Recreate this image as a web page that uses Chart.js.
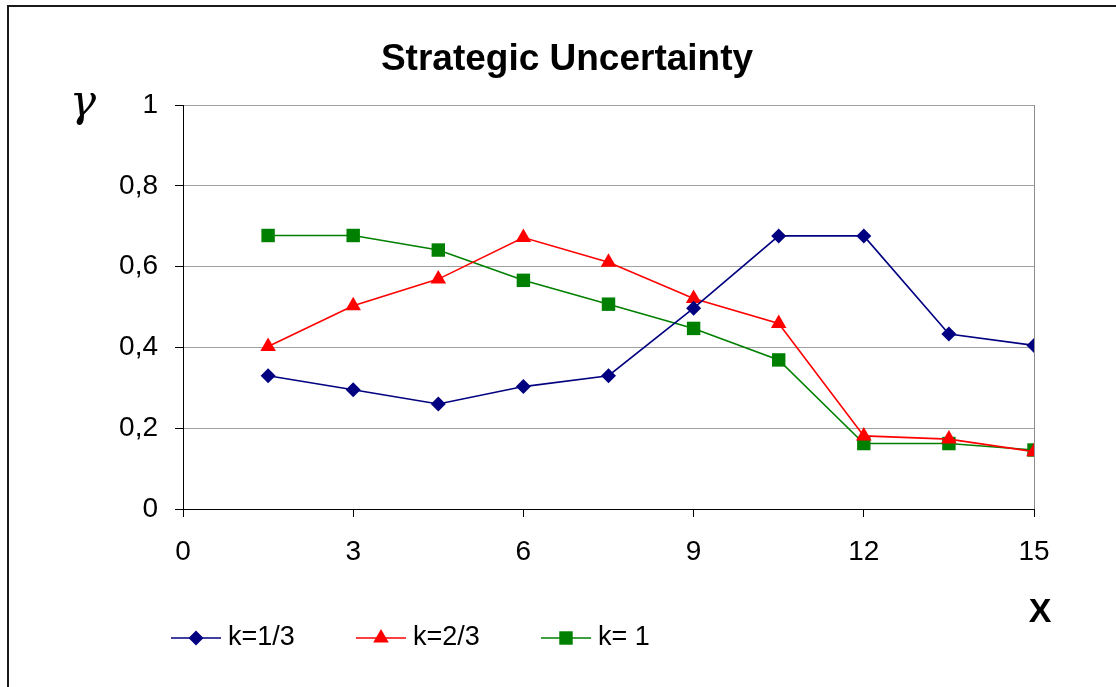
<!DOCTYPE html>
<html>
<head>
<meta charset="utf-8">
<script src="https://cdn.jsdelivr.net/npm/chart.js@4/dist/chart.umd.min.js"></script>
<style>
  html, body { margin: 0; padding: 0; background: #ffffff; }
  #wrap { width: 1116px; height: 687px; position: relative; }
</style>
</head>
<body>
<div id="wrap"><canvas id="c" width="1116" height="687"></canvas></div>
<script>
// ---- data ----
const chartTitle = 'Strategic Uncertainty';
const yAxisTitle = 'γ';
const xAxisTitle = 'X';
const xValues = [1.5, 3, 4.5, 6, 7.5, 9, 10.5, 12, 13.5, 15];
const seriesLabels = ['k=1/3', 'k=2/3', 'k= 1'];
const k13 = [0.330, 0.295, 0.260, 0.303, 0.330, 0.497, 0.676, 0.676, 0.433, 0.405];
const k23 = [0.402, 0.503, 0.569, 0.672, 0.611, 0.521, 0.459, 0.181, 0.173, 0.142];
const k1  = [0.677, 0.677, 0.641, 0.566, 0.507, 0.447, 0.369, 0.162, 0.162, 0.146];
const xTickLabels = ['0', '3', '6', '9', '12', '15'];
const yTickLabels = ['0', '0,2', '0,4', '0,6', '0,8', '1'];

const FONT = '"Liberation Sans", Arial, sans-serif';
const colors = ['#000080', '#ff0000', '#008000'];
const styles = ['rectRot', 'triangle', 'rect'];
const radii = [7.5, 9, 9.5];
const seriesValues = [k13, k23, k1];

function toPoints(ys) { return xValues.map((x, i) => ({ x: x, y: ys[i] })); }

const datasets = seriesValues.map((ys, i) => ({
  label: seriesLabels[i],
  data: toPoints(ys),
  borderColor: colors[i],
  backgroundColor: colors[i],
  borderWidth: 1.6,
  pointStyle: styles[i],
  pointRadius: radii[i],
  pointHoverRadius: radii[i],
  pointBackgroundColor: colors[i],
  pointBorderColor: colors[i],
  pointBorderWidth: 0,
  tension: 0,
  fill: false
}));

const decorPlugin = {
  id: 'decor',
  afterDraw(chart) {
    const ctx = chart.ctx;
    ctx.save();
    // outer frame
    ctx.strokeStyle = '#1a1a1a';
    ctx.lineWidth = 2;
    ctx.strokeRect(8, 6, 1300, 900);
    // title
    ctx.fillStyle = '#000';
    ctx.font = 'bold 37px ' + FONT;
    ctx.textAlign = 'center';
    ctx.textBaseline = 'alphabetic';
    ctx.fillText(chartTitle, 567, 70);
    // gamma
    ctx.font = 'italic 44px "DejaVu Serif", serif';
    ctx.fillText(yAxisTitle, 83, 116);
    // X
    ctx.font = 'bold 34px ' + FONT;
    ctx.fillText(xAxisTitle, 1040, 622);
    // legend
    const ly = 638;
    chart.data.datasets.forEach((ds, i) => {
      const x0 = 171 + 185 * i;
      ctx.strokeStyle = ds.borderColor;
      ctx.lineWidth = ds.borderWidth;
      ctx.beginPath();
      ctx.moveTo(x0, ly);
      ctx.lineTo(x0 + 50, ly);
      ctx.stroke();
      ctx.fillStyle = ds.backgroundColor;
      Chart.helpers.drawPoint(ctx, { pointStyle: ds.pointStyle, radius: ds.pointRadius, rotation: 0, borderWidth: 0 }, x0 + 25, ly);
      ctx.fillStyle = '#000';
      ctx.font = '27px ' + FONT;
      ctx.textAlign = 'left';
      ctx.textBaseline = 'middle';
      ctx.fillText(ds.label, x0 + 57, ly);
    });
    ctx.restore();
  }
};

new Chart(document.getElementById('c'), {
  type: 'line',
  data: { datasets: datasets },
  plugins: [decorPlugin],
  options: {
    responsive: false,
    animation: false,
    events: [],
    layout: { padding: { left: 0, right: 82, top: 105, bottom: 0 } },
    plugins: { legend: { display: false }, title: { display: false }, tooltip: { enabled: false } },
    scales: {
      x: {
        type: 'linear',
        min: 0, max: 15,
        afterFit(scale) { scale.height = 178; },
        afterBuildTicks(scale) { scale.ticks = xTickLabels.map(t => ({ value: Number(t) })); },
        ticks: {
          stepSize: 3,
          color: '#000',
          font: { family: FONT, size: 28 },
          padding: 18,
          maxRotation: 0,
          callback: (v, i) => xTickLabels[i]
        },
        grid: {
          color: (c) => (c.tick && c.tick.value === 15) ? '#8c8c8c' : 'rgba(0,0,0,0)',
          tickColor: '#000',
          tickLength: 8,
          lineWidth: 1
        },
        border: { display: true, color: '#000', width: 1 }
      },
      y: {
        min: 0, max: 1,
        afterFit(scale) { scale.width = 183; },
        afterBuildTicks(scale) { scale.ticks = yTickLabels.map(t => ({ value: Number(t.replace(',', '.')) })); },
        ticks: {
          stepSize: 0.2,
          color: '#000',
          font: { family: FONT, size: 28 },
          padding: 17,
          callback: (v, i) => yTickLabels[i]
        },
        grid: {
          color: (c) => (c.tick && c.tick.value === 0) ? 'rgba(0,0,0,0)' : '#a0a0a0',
          tickColor: '#000',
          tickLength: 8,
          lineWidth: 1
        },
        border: { display: true, color: '#000', width: 1 }
      }
    }
  }
});
</script>
</body>
</html>
